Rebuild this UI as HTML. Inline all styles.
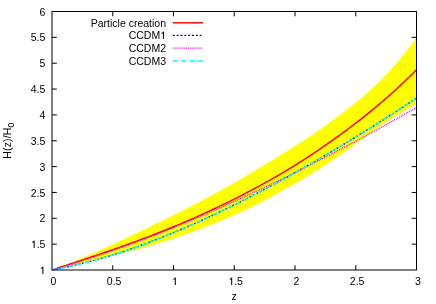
<!DOCTYPE html>
<html><head><meta charset="utf-8"><style>
html,body{margin:0;padding:0;background:#fff;}
svg{display:block;will-change:transform}
text{font-family:"Liberation Sans",sans-serif;font-size:10.5px;fill:#000}
</style></head><body>
<svg width="436" height="304" viewBox="0 0 436 304">
<rect width="436" height="304" fill="#fff"/>
<g stroke="#000" stroke-width="1" fill="none">
<path d="M112.75,270.0 V265.2 M112.75,11.5 V16.3"/><path d="M173.50,270.0 V265.2 M173.50,11.5 V16.3"/><path d="M234.25,270.0 V265.2 M234.25,11.5 V16.3"/><path d="M295.00,270.0 V265.2 M295.00,11.5 V16.3"/><path d="M355.75,270.0 V265.2 M355.75,11.5 V16.3"/><path d="M52.0,244.15 H56.8 M416.5,244.15 H411.7"/><path d="M52.0,218.30 H56.8 M416.5,218.30 H411.7"/><path d="M52.0,192.45 H56.8 M416.5,192.45 H411.7"/><path d="M52.0,166.60 H56.8 M416.5,166.60 H411.7"/><path d="M52.0,140.75 H56.8 M416.5,140.75 H411.7"/><path d="M52.0,114.90 H56.8 M416.5,114.90 H411.7"/><path d="M52.0,89.05 H56.8 M416.5,89.05 H411.7"/><path d="M52.0,63.20 H56.8 M416.5,63.20 H411.7"/><path d="M52.0,37.35 H56.8 M416.5,37.35 H411.7"/>
</g>
<polygon points="52.00,270.00 54.50,269.07 56.99,268.14 59.49,267.18 61.99,266.22 64.48,265.24 66.98,264.25 69.48,263.25 71.97,262.24 74.47,261.22 76.97,260.18 79.46,259.14 81.96,258.09 84.46,257.02 86.95,255.95 89.45,254.87 91.95,253.77 94.44,252.67 96.94,251.57 99.43,250.45 101.93,249.33 104.43,248.20 106.92,247.06 109.42,245.91 111.92,244.76 114.41,243.60 116.91,242.44 119.41,241.27 121.90,240.10 124.40,238.92 126.90,237.74 129.39,236.56 131.89,235.37 134.39,234.17 136.88,232.98 139.38,231.78 141.88,230.57 144.37,229.37 146.87,228.16 149.37,226.96 151.86,225.75 154.36,224.53 156.86,223.32 159.35,222.10 161.85,220.88 164.35,219.66 166.84,218.43 169.34,217.20 171.84,215.96 174.33,214.72 176.83,213.47 179.33,212.22 181.82,210.96 184.32,209.70 186.82,208.43 189.31,207.15 191.81,205.87 194.30,204.58 196.80,203.28 199.30,201.97 201.79,200.66 204.29,199.34 206.79,198.01 209.28,196.67 211.78,195.32 214.28,193.97 216.77,192.60 219.27,191.23 221.77,189.84 224.26,188.45 226.76,187.05 229.26,185.64 231.75,184.22 234.25,182.79 236.75,181.35 239.24,179.91 241.74,178.45 244.24,176.99 246.73,175.52 249.23,174.05 251.73,172.56 254.22,171.07 256.72,169.58 259.22,168.08 261.71,166.57 264.21,165.06 266.71,163.54 269.20,162.02 271.70,160.49 274.20,158.96 276.69,157.42 279.19,155.88 281.68,154.33 284.18,152.79 286.68,151.24 289.17,149.68 291.67,148.12 294.17,146.55 296.66,144.97 299.16,143.38 301.66,141.77 304.15,140.15 306.65,138.52 309.15,136.87 311.64,135.20 314.14,133.50 316.64,131.79 319.13,130.06 321.63,128.30 324.13,126.53 326.62,124.73 329.12,122.92 331.62,121.09 334.11,119.25 336.61,117.39 339.11,115.51 341.60,113.62 344.10,111.72 346.60,109.81 349.09,107.88 351.59,105.93 354.09,103.95 356.58,101.95 359.08,99.91 361.58,97.84 364.07,95.72 366.57,93.56 369.07,91.34 371.56,89.07 374.06,86.75 376.55,84.37 379.05,81.93 381.55,79.42 384.04,76.86 386.54,74.24 389.04,71.56 391.53,68.81 394.03,66.00 396.53,63.13 399.02,60.19 401.52,57.18 404.02,54.11 406.51,50.96 409.01,47.75 411.51,44.47 414.00,41.12 416.50,37.70 416.50,103.60 414.00,105.13 411.51,106.64 409.01,108.14 406.51,109.62 404.02,111.11 401.52,112.59 399.02,114.08 396.53,115.59 394.03,117.11 391.53,118.65 389.04,120.22 386.54,121.83 384.04,123.47 381.55,125.16 379.05,126.88 376.55,128.63 374.06,130.42 371.56,132.23 369.07,134.05 366.57,135.89 364.07,137.73 361.58,139.57 359.08,141.41 356.58,143.24 354.09,145.05 351.59,146.86 349.09,148.65 346.60,150.43 344.10,152.19 341.60,153.94 339.11,155.67 336.61,157.39 334.11,159.09 331.62,160.77 329.12,162.44 326.62,164.09 324.13,165.72 321.63,167.33 319.13,168.92 316.64,170.50 314.14,172.06 311.64,173.61 309.15,175.13 306.65,176.65 304.15,178.14 301.66,179.63 299.16,181.10 296.66,182.56 294.17,184.00 291.67,185.44 289.17,186.86 286.68,188.27 284.18,189.67 281.68,191.07 279.19,192.45 276.69,193.82 274.20,195.19 271.70,196.54 269.20,197.89 266.71,199.22 264.21,200.54 261.71,201.85 259.22,203.14 256.72,204.42 254.22,205.68 251.73,206.93 249.23,208.16 246.73,209.37 244.24,210.56 241.74,211.74 239.24,212.89 236.75,214.03 234.25,215.15 231.75,216.26 229.26,217.35 226.76,218.42 224.26,219.48 221.77,220.53 219.27,221.56 216.77,222.58 214.28,223.59 211.78,224.59 209.28,225.57 206.79,226.55 204.29,227.52 201.79,228.47 199.30,229.41 196.80,230.35 194.30,231.27 191.81,232.18 189.31,233.07 186.82,233.96 184.32,234.84 181.82,235.70 179.33,236.55 176.83,237.39 174.33,238.22 171.84,239.04 169.34,239.84 166.84,240.64 164.35,241.42 161.85,242.20 159.35,242.96 156.86,243.71 154.36,244.46 151.86,245.19 149.37,245.92 146.87,246.63 144.37,247.34 141.88,248.04 139.38,248.73 136.88,249.42 134.39,250.10 131.89,250.76 129.39,251.43 126.90,252.08 124.40,252.73 121.90,253.38 119.41,254.01 116.91,254.65 114.41,255.27 111.92,255.89 109.42,256.51 106.92,257.12 104.43,257.73 101.93,258.34 99.43,258.94 96.94,259.53 94.44,260.13 91.95,260.72 89.45,261.31 86.95,261.89 84.46,262.48 81.96,263.06 79.46,263.64 76.97,264.22 74.47,264.80 71.97,265.37 69.48,265.95 66.98,266.53 64.48,267.11 61.99,267.68 59.49,268.26 56.99,268.84 54.50,269.42 52.00,270.00" fill="#ffff00"/>
<path d="M52.00,270.00 L54.50,269.18 L56.99,268.36 L59.49,267.54 L61.99,266.72 L64.48,265.90 L66.98,265.07 L69.48,264.25 L71.97,263.43 L74.47,262.60 L76.97,261.78 L79.46,260.95 L81.96,260.12 L84.46,259.29 L86.95,258.46 L89.45,257.62 L91.95,256.79 L94.44,255.95 L96.94,255.10 L99.43,254.26 L101.93,253.41 L104.43,252.55 L106.92,251.70 L109.42,250.84 L111.92,249.97 L114.41,249.10 L116.91,248.23 L119.41,247.35 L121.90,246.47 L124.40,245.58 L126.90,244.69 L129.39,243.79 L131.89,242.89 L134.39,241.98 L136.88,241.06 L139.38,240.14 L141.88,239.21 L144.37,238.28 L146.87,237.33 L149.37,236.39 L151.86,235.43 L154.36,234.47 L156.86,233.50 L159.35,232.52 L161.85,231.53 L164.35,230.54 L166.84,229.53 L169.34,228.52 L171.84,227.50 L174.33,226.47 L176.83,225.44 L179.33,224.39 L181.82,223.33 L184.32,222.27 L186.82,221.19 L189.31,220.11 L191.81,219.02 L194.30,217.92 L196.80,216.81 L199.30,215.69 L201.79,214.56 L204.29,213.42 L206.79,212.28 L209.28,211.12 L211.78,209.96 L214.28,208.78 L216.77,207.60 L219.27,206.41 L221.77,205.21 L224.26,204.00 L226.76,202.78 L229.26,201.56 L231.75,200.32 L234.25,199.07 L236.75,197.82 L239.24,196.56 L241.74,195.28 L244.24,194.00 L246.73,192.71 L249.23,191.40 L251.73,190.09 L254.22,188.76 L256.72,187.43 L259.22,186.08 L261.71,184.72 L264.21,183.35 L266.71,181.96 L269.20,180.56 L271.70,179.15 L274.20,177.73 L276.69,176.29 L279.19,174.84 L281.68,173.37 L284.18,171.89 L286.68,170.40 L289.17,168.89 L291.67,167.36 L294.17,165.82 L296.66,164.27 L299.16,162.70 L301.66,161.11 L304.15,159.51 L306.65,157.90 L309.15,156.27 L311.64,154.63 L314.14,152.97 L316.64,151.30 L319.13,149.61 L321.63,147.91 L324.13,146.19 L326.62,144.46 L329.12,142.71 L331.62,140.95 L334.11,139.18 L336.61,137.39 L339.11,135.58 L341.60,133.76 L344.10,131.93 L346.60,130.08 L349.09,128.21 L351.59,126.33 L354.09,124.43 L356.58,122.52 L359.08,120.59 L361.58,118.64 L364.07,116.67 L366.57,114.68 L369.07,112.67 L371.56,110.63 L374.06,108.58 L376.55,106.50 L379.05,104.40 L381.55,102.28 L384.04,100.13 L386.54,97.96 L389.04,95.76 L391.53,93.54 L394.03,91.29 L396.53,89.01 L399.02,86.70 L401.52,84.36 L404.02,82.00 L406.51,79.60 L409.01,77.17 L411.51,74.71 L414.00,72.22 L416.50,69.70" fill="none" stroke="#ff0000" stroke-width="1.45"/>
<path d="M52.00,270.00 L55.04,269.44 L58.08,268.87 L61.11,268.27 L64.15,267.65 L67.19,267.01 L70.23,266.35 L73.26,265.66 L76.30,264.96 L79.34,264.23 L82.38,263.49 L85.41,262.72 L88.45,261.93 L91.49,261.13 L94.53,260.30 L97.56,259.46 L100.60,258.59 L103.64,257.71 L106.68,256.80 L109.71,255.88 L112.75,254.94 L115.79,253.98 L118.83,253.01 L121.86,252.01 L124.90,251.00 L127.94,249.97 L130.98,248.93 L134.01,247.87 L137.05,246.79 L140.09,245.69 L143.12,244.58 L146.16,243.46 L149.20,242.31 L152.24,241.16 L155.28,239.98 L158.31,238.80 L161.35,237.60 L164.39,236.38 L167.43,235.15 L170.46,233.91 L173.50,232.65 L176.54,231.37 L179.57,230.09 L182.61,228.79 L185.65,227.48 L188.69,226.15 L191.73,224.82 L194.76,223.47 L197.80,222.10 L200.84,220.73 L203.88,219.34 L206.91,217.94 L209.95,216.53 L212.99,215.11 L216.03,213.68 L219.06,212.23 L222.10,210.77 L225.14,209.31 L228.18,207.83 L231.21,206.34 L234.25,204.83 L237.29,203.32 L240.33,201.80 L243.36,200.27 L246.40,198.73 L249.44,197.17 L252.48,195.61 L255.51,194.03 L258.55,192.45 L261.59,190.86 L264.62,189.25 L267.66,187.64 L270.70,186.02 L273.74,184.39 L276.77,182.74 L279.81,181.09 L282.85,179.43 L285.89,177.76 L288.93,176.08 L291.96,174.40 L295.00,172.70 L298.04,170.99 L301.08,169.28 L304.11,167.56 L307.15,165.82 L310.19,164.08 L313.22,162.33 L316.26,160.58 L319.30,158.81 L322.34,157.03 L325.38,155.25 L328.41,153.46 L331.45,151.66 L334.49,149.85 L337.53,148.04 L340.56,146.21 L343.60,144.38 L346.64,142.54 L349.68,140.69 L352.71,138.84 L355.75,136.97 L358.79,135.10 L361.83,133.22 L364.86,131.33 L367.90,129.44 L370.94,127.54 L373.98,125.63 L377.01,123.71 L380.05,121.78 L383.09,119.85 L386.12,117.91 L389.16,115.96 L392.20,114.01 L395.24,112.05 L398.28,110.08 L401.31,108.10 L404.35,106.12 L407.39,104.13 L410.43,102.13 L413.46,100.13 L416.50,98.11" fill="none" stroke="#0000ff" stroke-width="1.3" stroke-dasharray="2,1.84"/>
<path d="M52.00,270.00 L55.04,269.12 L58.08,268.24 L61.11,267.34 L64.15,266.43 L67.19,265.51 L70.23,264.59 L73.26,263.65 L76.30,262.70 L79.34,261.74 L82.38,260.77 L85.41,259.79 L88.45,258.81 L91.49,257.81 L94.53,256.80 L97.56,255.79 L100.60,254.76 L103.64,253.73 L106.68,252.68 L109.71,251.63 L112.75,250.57 L115.79,249.50 L118.83,248.42 L121.86,247.33 L124.90,246.23 L127.94,245.13 L130.98,244.01 L134.01,242.89 L137.05,241.76 L140.09,240.62 L143.12,239.47 L146.16,238.32 L149.20,237.15 L152.24,235.98 L155.28,234.80 L158.31,233.61 L161.35,232.42 L164.39,231.21 L167.43,230.00 L170.46,228.78 L173.50,227.56 L176.54,226.32 L179.57,225.08 L182.61,223.83 L185.65,222.57 L188.69,221.31 L191.73,220.03 L194.76,218.75 L197.80,217.47 L200.84,216.17 L203.88,214.87 L206.91,213.56 L209.95,212.24 L212.99,210.92 L216.03,209.59 L219.06,208.25 L222.10,206.90 L225.14,205.55 L228.18,204.19 L231.21,202.83 L234.25,201.45 L237.29,200.07 L240.33,198.69 L243.36,197.29 L246.40,195.89 L249.44,194.49 L252.48,193.07 L255.51,191.65 L258.55,190.23 L261.59,188.79 L264.62,187.35 L267.66,185.91 L270.70,184.45 L273.74,182.99 L276.77,181.53 L279.81,180.05 L282.85,178.57 L285.89,177.09 L288.93,175.60 L291.96,174.10 L295.00,172.59 L298.04,171.08 L301.08,169.57 L304.11,168.04 L307.15,166.51 L310.19,164.98 L313.22,163.43 L316.26,161.89 L319.30,160.33 L322.34,158.77 L325.38,157.21 L328.41,155.63 L331.45,154.06 L334.49,152.47 L337.53,150.88 L340.56,149.28 L343.60,147.68 L346.64,146.07 L349.68,144.46 L352.71,142.84 L355.75,141.21 L358.79,139.58 L361.83,137.95 L364.86,136.30 L367.90,134.65 L370.94,133.00 L373.98,131.34 L377.01,129.67 L380.05,128.00 L383.09,126.32 L386.12,124.64 L389.16,122.95 L392.20,121.26 L395.24,119.56 L398.28,117.85 L401.31,116.14 L404.35,114.43 L407.39,112.71 L410.43,110.98 L413.46,109.25 L416.50,107.51" fill="none" stroke="#ff00ff" stroke-width="1.35" stroke-dasharray="1,0.9"/>
<path d="M52.00,270.00 L55.04,269.44 L58.08,268.87 L61.11,268.27 L64.15,267.65 L67.19,267.01 L70.23,266.35 L73.26,265.66 L76.30,264.96 L79.34,264.23 L82.38,263.49 L85.41,262.72 L88.45,261.93 L91.49,261.13 L94.53,260.30 L97.56,259.46 L100.60,258.59 L103.64,257.71 L106.68,256.80 L109.71,255.88 L112.75,254.94 L115.79,253.98 L118.83,253.01 L121.86,252.01 L124.90,251.00 L127.94,249.97 L130.98,248.93 L134.01,247.87 L137.05,246.79 L140.09,245.69 L143.12,244.58 L146.16,243.46 L149.20,242.31 L152.24,241.16 L155.28,239.98 L158.31,238.80 L161.35,237.60 L164.39,236.38 L167.43,235.15 L170.46,233.91 L173.50,232.65 L176.54,231.37 L179.57,230.09 L182.61,228.79 L185.65,227.48 L188.69,226.15 L191.73,224.82 L194.76,223.47 L197.80,222.10 L200.84,220.73 L203.88,219.34 L206.91,217.94 L209.95,216.53 L212.99,215.11 L216.03,213.68 L219.06,212.23 L222.10,210.77 L225.14,209.31 L228.18,207.83 L231.21,206.34 L234.25,204.83 L237.29,203.32 L240.33,201.80 L243.36,200.27 L246.40,198.73 L249.44,197.17 L252.48,195.61 L255.51,194.03 L258.55,192.45 L261.59,190.86 L264.62,189.25 L267.66,187.64 L270.70,186.02 L273.74,184.39 L276.77,182.74 L279.81,181.09 L282.85,179.43 L285.89,177.76 L288.93,176.08 L291.96,174.40 L295.00,172.70 L298.04,170.99 L301.08,169.28 L304.11,167.56 L307.15,165.82 L310.19,164.08 L313.22,162.33 L316.26,160.58 L319.30,158.81 L322.34,157.03 L325.38,155.25 L328.41,153.46 L331.45,151.66 L334.49,149.85 L337.53,148.04 L340.56,146.21 L343.60,144.38 L346.64,142.54 L349.68,140.69 L352.71,138.84 L355.75,136.97 L358.79,135.10 L361.83,133.22 L364.86,131.33 L367.90,129.44 L370.94,127.54 L373.98,125.63 L377.01,123.71 L380.05,121.78 L383.09,119.85 L386.12,117.91 L389.16,115.96 L392.20,114.01 L395.24,112.05 L398.28,110.08 L401.31,108.10 L404.35,106.12 L407.39,104.13 L410.43,102.13 L413.46,100.13 L416.50,98.11" fill="none" stroke="#00ffff" stroke-width="1.45" stroke-dasharray="5,1.4,0.8,1.3"/>
<rect x="52.0" y="11.5" width="364.5" height="258.5" stroke="#000" stroke-width="1" fill="none"/>
<text x="53.40" y="284.80" text-anchor="middle">0</text><text x="114.15" y="284.80" text-anchor="middle">0.5</text><text x="174.90" y="284.80" text-anchor="middle"><tspan visibility="hidden">1</tspan></text><text x="235.65" y="284.80" text-anchor="middle"><tspan visibility="hidden">1</tspan>.5</text><text x="296.40" y="284.80" text-anchor="middle">2</text><text x="357.15" y="284.80" text-anchor="middle">2.5</text><text x="417.90" y="284.80" text-anchor="middle">3</text><text x="45.40" y="274.10" text-anchor="end"><tspan visibility="hidden">1</tspan></text><text x="45.40" y="248.25" text-anchor="end"><tspan visibility="hidden">1</tspan>.5</text><text x="45.40" y="222.40" text-anchor="end">2</text><text x="45.40" y="196.55" text-anchor="end">2.5</text><text x="45.40" y="170.70" text-anchor="end">3</text><text x="45.40" y="144.85" text-anchor="end">3.5</text><text x="45.40" y="119.00" text-anchor="end">4</text><text x="45.40" y="93.15" text-anchor="end">4.5</text><text x="45.40" y="67.30" text-anchor="end">5</text><text x="45.40" y="41.45" text-anchor="end">5.5</text><text x="45.40" y="15.60" text-anchor="end">6</text>
<text x="166" y="27.00" text-anchor="end">Particle creation</text><text x="166" y="39.30" text-anchor="end">CCDM<tspan visibility="hidden">1</tspan></text><text x="166" y="52.00" text-anchor="end">CCDM2</text><text x="166" y="64.60" text-anchor="end">CCDM3</text>
<path transform="translate(171.98,285.00) scale(0.0105,-0.0108)" d="M366,0 H268 V505 H105 V572 C190,576 262,612 292,703 H366 Z"/><path transform="translate(228.35,285.00) scale(0.0105,-0.0108)" d="M366,0 H268 V505 H105 V572 C190,576 262,612 292,703 H366 Z"/><path transform="translate(39.56,274.00) scale(0.0105,-0.0108)" d="M366,0 H268 V505 H105 V572 C190,576 262,612 292,703 H366 Z"/><path transform="translate(30.80,248.00) scale(0.0105,-0.0108)" d="M366,0 H268 V505 H105 V572 C190,576 262,612 292,703 H366 Z"/><path transform="translate(160.16,39.00) scale(0.0105,-0.0108)" d="M366,0 H268 V505 H105 V572 C190,576 262,612 292,703 H366 Z"/>
<path d="M172.8,22.8 H203" stroke="#ff0000" stroke-width="1.45"/>
<path d="M172.8,35.4 H201.5" stroke="#0000ff" stroke-width="1.3" stroke-dasharray="2,1.84"/>
<path d="M172.8,48.1 H203" stroke="#ff00ff" stroke-width="1.35" stroke-dasharray="1,0.9"/>
<path d="M172.8,60.9 H203" stroke="#00ffff" stroke-width="1.45" stroke-dasharray="5,1.4,0.8,1.3"/>
<text x="234.2" y="300" text-anchor="middle">z</text>
<text transform="translate(10.65,140.6) rotate(-90)" text-anchor="middle" letter-spacing="0.15">H(z)/H<tspan dy="3.8" font-size="8.6px">0</tspan></text>
</svg>
</body></html>
